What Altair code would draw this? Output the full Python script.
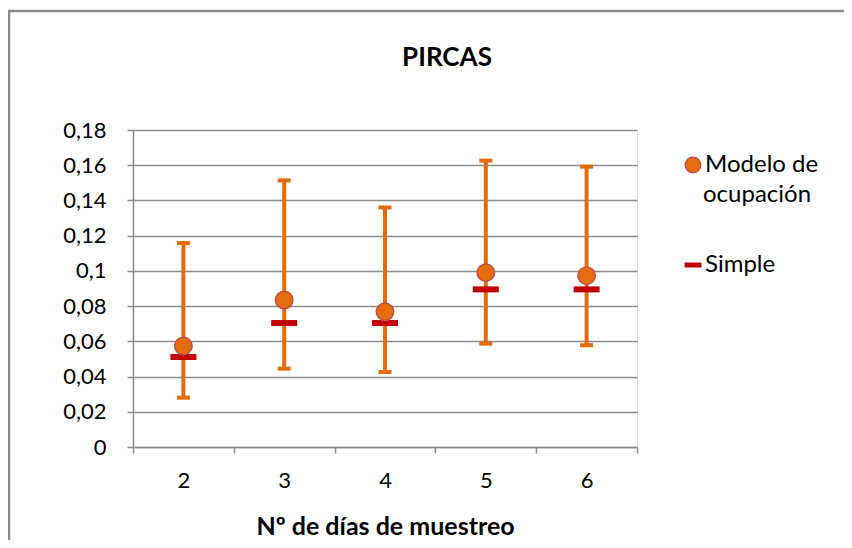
import altair as alt
import pandas as pd

# ---- data ----
dias = ["2", "3", "4", "5", "6"]
modelo = [0.0574, 0.0835, 0.0768, 0.0990, 0.0973]
simple = [0.0511, 0.0704, 0.0704, 0.0895, 0.0895]
lower = [0.0280, 0.0445, 0.0426, 0.0587, 0.0578]
upper = [0.1158, 0.1514, 0.1360, 0.1626, 0.1592]
series = ["Modelo de ocupación", "Simple"]
y_ticks = [0, 0.02, 0.04, 0.06, 0.08, 0.1, 0.12, 0.14, 0.16, 0.18]
chart_title = "PIRCAS"
x_title = "Nº de días de muestreo"
legend_line1 = "Modelo de"
legend_line2 = "ocupación"

ORANGE = "#E46C0A"
RING = "#C0504D"
RED = "#C00000"
GRID = "#8C8C8C"
FONT = "Lato"
DASH = "M-1,-0.23L1,-0.23L1,0.23L-1,0.23Z"

wide = pd.DataFrame({"dias": dias, "lower": lower, "upper": upper})
df_modelo = pd.DataFrame({"dias": dias, "valor": modelo, "serie": [series[0]] * len(dias)})
df_simple = pd.DataFrame({"dias": dias, "valor": simple, "serie": [series[1]] * len(dias)})

yscale = alt.Scale(domain=[0, 0.18], nice=False, zero=True)
xscale = alt.Scale(paddingInner=0, paddingOuter=0)

x_axis = alt.Axis(
    title=x_title, tickBand="extent", grid=False, labelAngle=0,
    domainColor=GRID, domainWidth=1.5, tickColor=GRID, tickWidth=1.5, tickSize=6,
    labelFontSize=22, labelColor="#000000", labelPadding=17, labelFont=FONT,
    titleFontSize=25, titleFontWeight="bold", titleColor="#000000", titlePadding=23,
    titleFont=FONT,
)
y_axis = alt.Axis(
    title="", values=y_ticks, grid=True, gridColor=GRID, gridWidth=1.5, labelOverlap=False,
    domainColor=GRID, domainWidth=1.5, tickColor=GRID, tickWidth=1.5, tickSize=6,
    labelFontSize=22, labelColor="#000000", labelPadding=21, labelFont=FONT,
    labelExpr="replace(format(datum.value, '.2~f'), '.', ',')",
)

X = alt.X("dias:N", sort=dias, scale=xscale, axis=x_axis)

border = alt.Chart(pd.DataFrame({"frame": [0]})).mark_rect(
    fill="transparent", stroke=GRID, strokeWidth=2.5
).encode(
    x=alt.value(-124), x2=alt.value(900), y=alt.value(-119), y2=alt.value(600)
)

title = alt.Chart(pd.DataFrame({"t": [chart_title]})).mark_text(
    font=FONT, fontSize=26, fontWeight="bold", color="#000000", baseline="middle", align="center"
).encode(text="t:N", x=alt.value(314), y=alt.value(-72))

# second line of the wrapped legend label
legend_wrap = alt.Chart(pd.DataFrame({"t": [legend_line2]})).mark_text(
    font=FONT, fontSize=24, color="#000000", baseline="middle", align="left"
).encode(text="t:N", x=alt.value(570), y=alt.value(65))

bars = alt.Chart(wide).mark_rule(color=ORANGE, strokeWidth=4).encode(
    x=X,
    y=alt.Y("lower:Q", scale=yscale, axis=y_axis),
    y2="upper:Q",
)
cap_lo = alt.Chart(wide).mark_tick(color=ORANGE, thickness=4, size=13, opacity=1).encode(
    x=X, y=alt.Y("lower:Q", scale=yscale, axis=y_axis),
)
cap_hi = alt.Chart(wide).mark_tick(color=ORANGE, thickness=4, size=13, opacity=1).encode(
    x=X, y=alt.Y("upper:Q", scale=yscale, axis=y_axis),
)

legend = alt.Legend(
    title=None, orient="none", legendX=548, legendY=23, symbolSize=240,
    labelFontSize=24, labelFont=FONT, labelColor="#000000", labelOffset=0,
    rowPadding=76, padding=0, symbolStrokeWidth=1.5,
    labelExpr=f"datum.label == '{series[0]}' ? '{legend_line1}' : datum.label",
)
shape_enc = alt.Shape("serie:N", scale=alt.Scale(domain=series, range=["circle", DASH]), legend=legend)
fill_enc = alt.Fill("serie:N", scale=alt.Scale(domain=series, range=[ORANGE, RED]), legend=legend)
stroke_enc = alt.Stroke("serie:N", scale=alt.Scale(domain=series, range=[RING, RED]), legend=legend)

simple_pts = alt.Chart(df_simple).mark_point(filled=True, opacity=1, size=676, strokeWidth=0).encode(
    x=X, y=alt.Y("valor:Q", scale=yscale, axis=y_axis),
    shape=shape_enc, fill=fill_enc, stroke=stroke_enc,
)
modelo_pts = alt.Chart(df_modelo).mark_point(filled=True, opacity=1, size=305, strokeWidth=1.5).encode(
    x=X, y=alt.Y("valor:Q", scale=yscale, axis=y_axis),
    shape=shape_enc, fill=fill_enc, stroke=stroke_enc,
)

chart = alt.layer(border, title, legend_wrap, bars, cap_lo, cap_hi, simple_pts, modelo_pts).properties(
    width=504, height=317,
    autosize=alt.AutoSizeParams(type="none"),
    padding={"left": 125, "top": 122, "right": 207, "bottom": 93},
).configure_view(strokeWidth=0).configure(font=FONT)

chart.save("out.html", embed_options={"renderer": "svg", "actions": False})
